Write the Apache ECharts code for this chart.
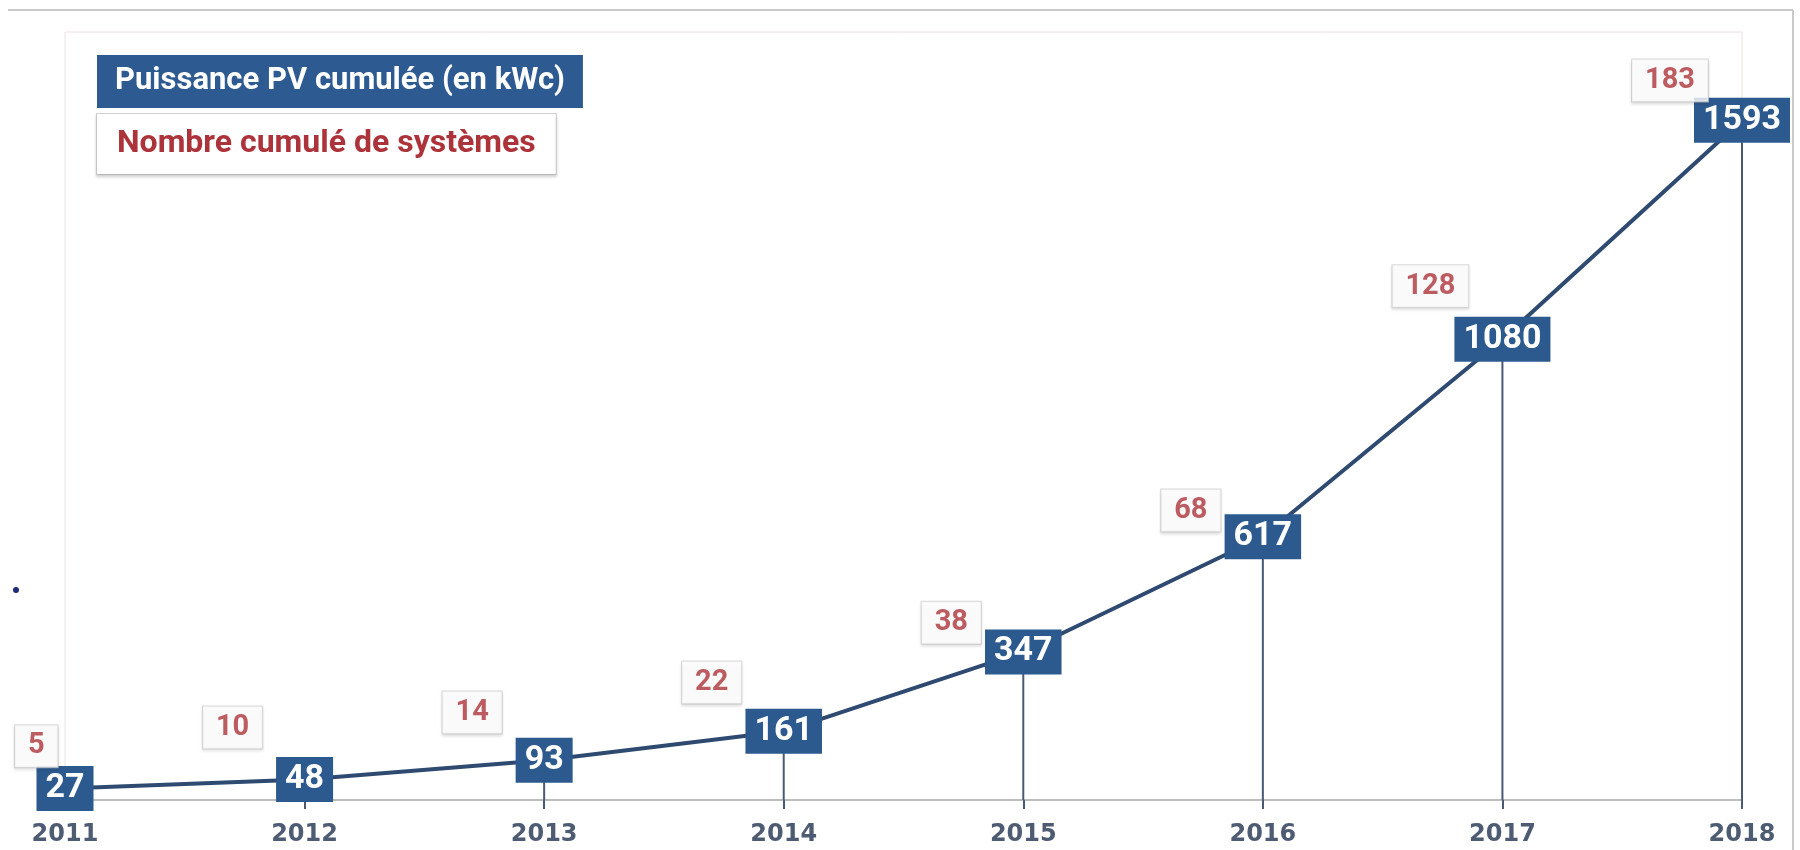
<!DOCTYPE html>
<html>
<head>
<meta charset="utf-8">
<script src="https://cdn.jsdelivr.net/npm/echarts@6/dist/echarts.min.js"></script>
<style>
html,body{margin:0;padding:0;background:#fff;}
#chart{width:1800px;height:850px;}
</style>
</head>
<body>
<div id="chart"></div>
<script>
const years = ['2011', '2012', '2013', '2014', '2015', '2016', '2017', '2018'];
const puissance = [27, 48, 93, 161, 347, 617, 1080, 1593];
const systemes = [5, 10, 14, 22, 38, 68, 128, 183];
const nomPuissance = 'Puissance PV cumulée (en kWc)';
const nomSystemes = 'Nombre cumulé de systèmes';

const narrow = "Roboto, 'Liberation Sans', sans-serif";

const chart = echarts.init(document.getElementById('chart'));
chart.setOption({
  backgroundColor: '#ffffff',
  animation: false,
  graphic: [
    { type: 'line', shape: { x1: 8, y1: 10, x2: 1793, y2: 10 }, style: { stroke: '#c9c9c9', lineWidth: 2 } },
    { type: 'line', shape: { x1: 1793, y1: 10, x2: 1793, y2: 852 }, style: { stroke: '#c9c9c9', lineWidth: 2 } },
    { type: 'circle', shape: { cx: 16, cy: 590, r: 3 }, style: { fill: '#1f2a7a' } }
  ],
  legend: {
    orient: 'vertical',
    left: 92,
    top: 55,
    padding: 0,
    itemGap: 5,
    itemWidth: 0,
    itemHeight: 0,
    icon: 'none',
    selectedMode: false,
    data: [
      { name: nomPuissance, textStyle: {
          color: '#ffffff', backgroundColor: '#2d5a90', fontFamily: narrow,
          fontWeight: 'bold', fontSize: 31, padding: [11, 18, 11, 18] } },
      { name: nomSystemes, textStyle: {
          color: '#ad333a', backgroundColor: '#ffffff', fontFamily: narrow,
          fontWeight: 'bold', fontSize: 32, padding: [14, 20, 14, 20],
          borderColor: '#d2d2d2', borderWidth: 1,
          shadowColor: 'rgba(0,0,0,0.15)', shadowBlur: 3, shadowOffsetY: 2 } }
    ]
  },
  grid: {
    left: 65, right: 58, top: 32, bottom: 50,
    show: true, borderColor: '#eee0e0', borderWidth: 1, backgroundColor: 'transparent'
  },
  xAxis: {
    type: 'category',
    data: years,
    boundaryGap: false,
    axisLine: { lineStyle: { color: '#bdbdbd', width: 2 } },
    axisTick: { show: true, length: 9, alignWithLabel: true, lineStyle: { color: '#4a5974', width: 2 } },
    axisLabel: {
      interval: 0, margin: 23, color: '#4d5b73',
      fontFamily: "'DejaVu Sans', sans-serif", fontWeight: 'bold', fontSize: 24
    },
    splitLine: { show: false }
  },
  yAxis: [
    { type: 'value', min: 0, max: 1800, show: false },
    { type: 'value', min: -9.4, max: 196, show: false }
  ],
  series: [
    {
      name: 'lignes',
      type: 'bar',
      data: puissance,
      barWidth: 2,
      silent: true,
      z: 1,
      itemStyle: { color: '#4a5974' }
    },
    {
      name: nomPuissance,
      type: 'line',
      data: puissance,
      z: 3,
      symbol: 'rect',
      symbolSize: 4,
      itemStyle: { color: '#2f4a70' },
      lineStyle: { color: '#2f4a70', width: 4 },
      label: {
        show: true,
        position: 'inside',
        color: '#ffffff',
        backgroundColor: '#2c5a8f',
        fontFamily: narrow,
        fontWeight: 'bold',
        fontSize: 34,
        lineHeight: 36,
        padding: [5, 9, 4, 9]
      }
    },
    {
      name: nomSystemes,
      type: 'scatter',
      yAxisIndex: 1,
      data: systemes,
      symbolSize: 1,
      z: 4,
      itemStyle: { color: 'rgba(0,0,0,0)' },
      label: {
        show: true,
        position: 'inside',
        color: '#ad333a',
        backgroundColor: '#ffffff',
        fontFamily: narrow,
        fontWeight: 'bold',
        fontSize: 29,
        lineHeight: 30,
        padding: [6, 13, 6, 13],
        borderColor: '#cfcfcf',
        borderWidth: 1,
        shadowColor: 'rgba(0,0,0,0.12)',
        shadowBlur: 3,
        shadowOffsetY: 2
      },
      labelLayout: function (p) {
        const r = p.labelRect;
        const cx = r.x + r.width / 2;
        return { dx: -Math.min(72, cx - r.width / 2 - 14) };
      }
    }
  ]
});
</script>
</body>
</html>
